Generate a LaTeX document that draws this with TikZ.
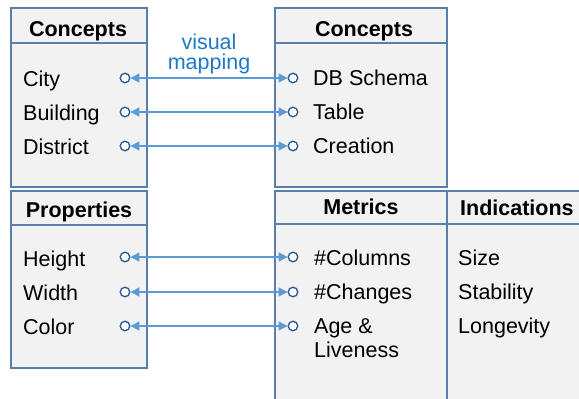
\documentclass[tikz,border=0pt]{standalone}
\usepackage{fontspec}
\setmainfont{Liberation Sans}
\usetikzlibrary{arrows.meta}
\definecolor{boxline}{HTML}{5A7FAA}
\definecolor{boxfill}{HTML}{F2F2F2}
\definecolor{connblue}{HTML}{5B9BD5}
\definecolor{dotblue}{HTML}{2F5F96}
\definecolor{labelblue}{HTML}{1F78C8}
\tikzset{
  panel/.style={draw=boxline, fill=boxfill, line width=1.4pt},
  sep/.style={draw=boxline, line width=1.4pt},
  txt/.style={anchor=base west, inner sep=0pt, font=\fontsize{21.5}{24}\selectfont},
  hdr/.style={anchor=base, inner sep=0pt, font=\fontsize{21.5}{24}\selectfont\bfseries},
  hdrl/.style={anchor=base west, inner sep=0pt, font=\fontsize{21.5}{24}\selectfont\bfseries},
  dot/.style={circle, draw=dotblue, fill=white, line width=1.4pt, minimum size=9.5pt, inner sep=0pt},
  conn/.style={draw=connblue, line width=1.4pt, {Triangle[length=9pt,width=9pt]}-{Triangle[length=9pt,width=9pt]}},
  lbl/.style={align=center, inner sep=0pt, text=labelblue, font=\fontsize{21.5}{20}\selectfont}
}
\begin{document}
\begin{tikzpicture}[x=1pt,y=-1pt]
\clip (0,0) rectangle (579,399);
% panels
\path[panel] (11,8) rectangle (147,187);
\draw[sep] (11,43) -- (147,43);
\path[panel] (275,8) rectangle (447,187);
\draw[sep] (275,43) -- (447,43);
\path[panel] (11,191) rectangle (147,368);
\draw[sep] (11,225) -- (147,225);
\path[panel] (275,191) rectangle (447,420);
\draw[sep] (275,224) -- (447,224);
\path[panel] (447,191) rectangle (600,420);
\draw[sep] (447,224) -- (600,224);
% headers
\node[hdr] (h1) at (78,36) {Concepts};
\node[hdr] (h2) at (364,36) {Concepts};
\node[hdr] (h3) at (79,217) {Properties};
\node[hdr] (h4) at (361,214) {Metrics};
\node[hdrl] (h5) at (460,215) {Indications};
% left texts
\node[txt] (city) at (23,86) {City};
\node[txt] (bldg) at (23,120) {Building};
\node[txt] (dist) at (23,154) {District};
\node[txt] (hght) at (23,266) {Height};
\node[txt] (wdth) at (23,300) {Width};
\node[txt] (colr) at (23,334) {Color};
% right texts
\node[txt] (dbs) at (313,85) {DB Schema};
\node[txt] (tab) at (313,119) {Table};
\node[txt] (cre) at (313,153) {Creation};
\node[txt] (ncol) at (314,265) {\#Columns};
\node[txt] (nchg) at (314,299) {\#Changes};
\node[txt] (age) at (314,333) {Age \&};
\node[txt] (live) at (314,357) {Liveness};
\node[txt] (size) at (458,265) {Size};
\node[txt] (stab) at (458,299) {Stability};
\node[txt] (long) at (458,333) {Longevity};
% label
\node[lbl] (vm) at (209,54) {visual\\mapping};
% dots
\foreach \n/\y in {1/78,2/112,3/146,4/257,5/292,6/326}{
  \node[dot] (l\n) at (125,\y) {};
  \node[dot] (r\n) at (293,\y) {};
}
\foreach \n in {1,...,6}{
  \draw[conn] (l\n) -- (r\n);
}
\end{tikzpicture}
\end{document}
